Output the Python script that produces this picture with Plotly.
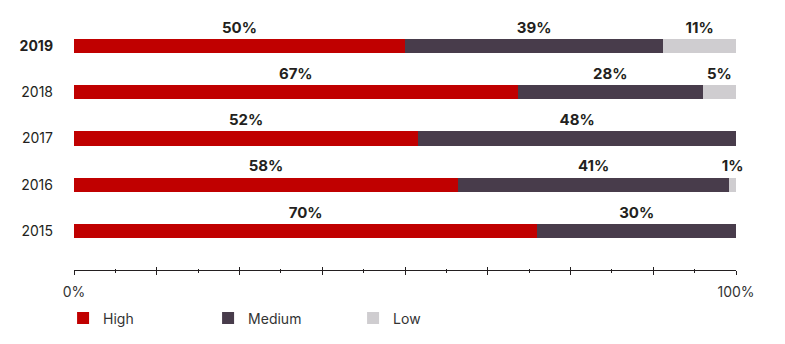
import plotly.graph_objects as go

# Risk-level shares by year (percent)
years = ["2015", "2016", "2017", "2018", "2019"]
high = [70, 58, 52, 67, 50]
medium = [30, 41, 48, 28, 39]
low = [0, 1, 0, 5, 11]

series_names = ["High", "Medium", "Low"]
series_values = [high, medium, low]
series_colors = ["#c00000", "#483c4b", "#cfcdd0"]

year_labels = [f"<b>{y}</b>" if y == "2019" else y for y in years]
x_tick_vals = [0, 100]
x_tick_text = ["0%", "100%"]

FONT = "Inter"
TEXT_COLOR = "#231f20"

ypos = list(range(len(years)))
fig = go.Figure()

# stacked horizontal bars
for name, vals, color in zip(series_names, series_values, series_colors):
    fig.add_trace(go.Bar(
        x=vals, y=ypos, name=name, orientation="h",
        marker=dict(color=color, line=dict(width=0)),
        width=0.31, hoverinfo="skip",
    ))

# value labels centred over each segment, just above the bar
label_x, label_y, label_t = [], [], []
for i in range(len(years)):
    start = 0
    for vals in series_values:
        v = vals[i]
        if v > 0:
            label_x.append(start + v / 2)
            label_y.append(i + 0.37)
            label_t.append(f"<b>{v}%</b>")
        start += v
fig.add_trace(go.Scatter(
    x=label_x, y=label_y, text=label_t, mode="text",
    textposition="middle center",
    textfont=dict(family=FONT, size=15, color=TEXT_COLOR),
    showlegend=False, hoverinfo="skip", cliponaxis=False,
))

fig.update_layout(
    width=785, height=344,
    margin=dict(l=74, r=49, t=20, b=74, autoexpand=False),
    barmode="stack",
    plot_bgcolor="white", paper_bgcolor="white",
    font=dict(family=FONT, color=TEXT_COLOR, size=13),
    showlegend=True,
    legend=dict(
        orientation="h", x=-0.0165, xanchor="left", y=-0.13, yanchor="top",
        entrywidth=100, entrywidthmode="pixels",
        font=dict(family=FONT, size=14, color="#333333"),
        traceorder="normal", itemclick=False, itemdoubleclick=False,
    ),
    xaxis=dict(
        range=[0, 100], tickvals=x_tick_vals, ticktext=x_tick_text,
        showgrid=False, zeroline=False,
        showline=True, linecolor="#231f20", linewidth=1,
        ticks="", ticklabelstandoff=9,
        tickfont=dict(family=FONT, size=14, color="#333333"),
        fixedrange=True,
    ),
    # tick marks crossing the axis line: outward half
    xaxis2=dict(
        overlaying="x", anchor="y", side="bottom", range=[0, 100],
        tickmode="linear", tick0=0, dtick=12.5,
        ticks="outside", ticklen=4, tickwidth=1, tickcolor="#231f20",
        showticklabels=False, showgrid=False, zeroline=False,
        minor=dict(dtick=6.25, ticks="outside", ticklen=2, tickcolor="#231f20"),
    ),
    # inward half
    xaxis3=dict(
        overlaying="x", anchor="y", side="bottom", range=[0, 100],
        tickmode="linear", tick0=0, dtick=12.5,
        ticks="inside", ticklen=3, tickwidth=1, tickcolor="#231f20",
        showticklabels=False, showgrid=False, zeroline=False,
        minor=dict(dtick=6.25, ticks="inside", ticklen=1.5, tickcolor="#231f20"),
    ),
    yaxis=dict(
        range=[-0.843, 4.562], tickvals=ypos, ticktext=year_labels,
        showgrid=False, zeroline=False, showline=False,
        ticks="", ticklabelstandoff=20,
        tickfont=dict(family=FONT, size=14, color=TEXT_COLOR),
        fixedrange=True,
    ),
)

# invisible carriers for the tick-mark axes
fig.add_trace(go.Scatter(x=[0, 100], y=[0, 0], xaxis="x2", mode="markers",
                         marker=dict(opacity=0), showlegend=False, hoverinfo="skip"))
fig.add_trace(go.Scatter(x=[0, 100], y=[0, 0], xaxis="x3", mode="markers",
                         marker=dict(opacity=0), showlegend=False, hoverinfo="skip"))

fig.write_html("out.html")
